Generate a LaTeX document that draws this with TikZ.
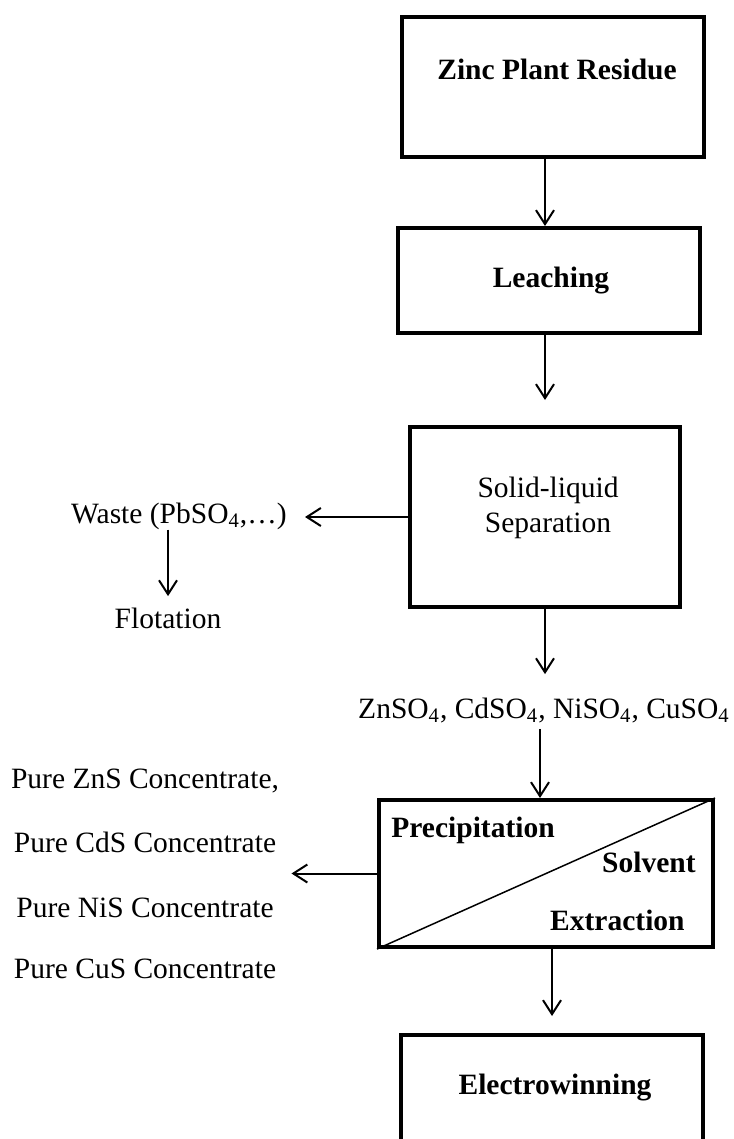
\documentclass[tikz,border=0pt]{standalone}
\usepackage{fontspec}
\setmainfont{Liberation Serif}
\usetikzlibrary{arrows.meta}

\tikzset{
    box/.style={draw, line width=2pt, minimum width=151pt, inner sep=0pt},
    txt/.style={anchor=base, inner sep=0pt, font=\fontsize{14.75}{17}\selectfont},
    btxt/.style={txt, font=\fontsize{14.75}{17}\selectfont\bfseries},
    flow/.style={->, line width=1pt},
}

\begin{document}
\begin{tikzpicture}[x=0.5pt, y=-0.5pt, >={Straight Barb[length=7pt,width=9pt]}]
\useasboundingbox (0,0) rectangle (733,1139);
\clip (0,0) rectangle (733,1139);

% process boxes
\node[box, minimum height=70pt] (zpr) at (553,87) {};
\node[box, minimum height=52.5pt] (leach) at (549,280.5) {};
\node[box, minimum width=135pt, minimum height=90pt] (sep) at (545,517) {};
\node[box, minimum width=167pt, minimum height=73.5pt] (ps) at (546,873.5) {};
\node[box, minimum height=70pt] (ew) at (552,1105) {};
\draw[line width=0.75pt] (ps.south west) -- (ps.north east);

% box texts
\node[btxt] (zprtxt) at (557,80) {Zinc Plant Residue};
\node[btxt] (leachtxt) at (551,287) {Leaching};
\node[txt] (septxt) at (548,497) {Solid-liquid};
\node[txt] (septxtb) at (548,532) {Separation};
\node[btxt, anchor=base west] (prec) at (391,837) {Precipitation};
\node[btxt, anchor=base east] (solv) at (696,872) {Solvent};
\node[btxt, anchor=base east] (extr) at (685,930) {Extraction};
\node[btxt] (ewtxt) at (555,1094) {Electrowinning};

% streams
\node[txt, anchor=base east] (waste) at (287,523) {Waste (PbSO\textsubscript{4},…)};
\node[txt] (flot) at (168,628) {Flotation};
\node[txt] (chem) at (544,718) {ZnSO\textsubscript{4}, CdSO\textsubscript{4}, NiSO\textsubscript{4}, CuSO\textsubscript{4}};
\node[txt] (cZn) at (145,788) {Pure ZnS Concentrate,};
\node[txt] (cCd) at (145,852) {Pure CdS Concentrate};
\node[txt] (cNi) at (145,917) {Pure NiS Concentrate};
\node[txt] (cCu) at (145,978) {Pure CuS Concentrate};

% arrows
\draw[flow] ([xshift=-4pt]zpr.south) -- ([xshift=-2pt]leach.north);
\draw[flow, shorten >=12.5pt] ([xshift=-2pt]leach.south) -- (sep.north);
\draw[flow, shorten >=11.5pt] (sep.south) -- (sep.south |- chem.north);
\draw[flow, shorten <=3pt] ([xshift=-3pt]ps.north |- chem.south) -- ([xshift=-3pt]ps.north);
\draw[flow, shorten >=8.5pt] ([xshift=3pt]ps.south) -- (ew.north);
\draw[flow, shorten >=9pt] (sep.west) -- (sep.west -| waste.east);
\draw[flow, shorten >=5.5pt] (flot.north |- waste.south) -- (flot.north);
\draw[flow, shorten >=7.5pt] (ps.west) -- (ps.west -| cCd.east);
\end{tikzpicture}
\end{document}
